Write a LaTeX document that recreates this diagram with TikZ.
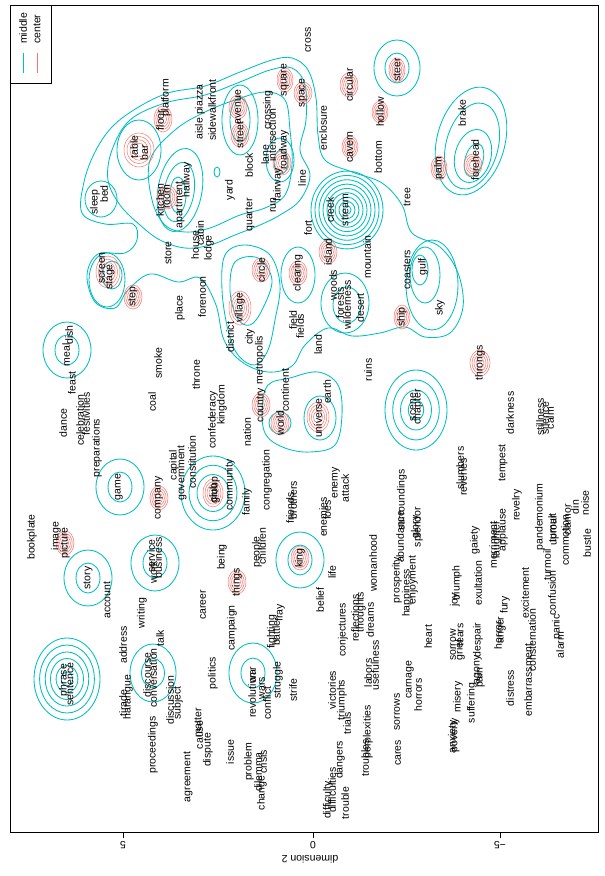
\documentclass[tikz,border=0pt]{standalone}
\usepackage{fontspec}
\setmainfont{Liberation Sans}
\definecolor{cyc}{RGB}{0,191,196}
\definecolor{rdc}{RGB}{248,118,109}
\begin{document}
\begin{tikzpicture}[x=1pt,y=-1pt,
  w/.style={font=\fontsize{10.5}{11}\selectfont, rotate=90, inner sep=0pt},
  cy/.style={draw=cyc, line width=0.85pt},
  rd/.style={draw=rdc, line width=0.5pt}]
\useasboundingbox (0,0) rectangle (605,876);
\fill[white] (0,0) rectangle (605,876);
% frame
\draw[line width=0.7pt] (10,5) rectangle (598,832);
\foreach \xx/\lab/\nm in {123/5/t1,313/0/t2,500/{−5}/t3}{
  \coordinate (\nm a) at (\xx,832); \coordinate (\nm b) at (\xx,838);
  \draw (\nm a) -- (\nm b);
  \node[font=\fontsize{10.5}{11}\selectfont, rotate=180] (\nm) at (\xx,845) {\lab};}
\node[font=\fontsize{10.5}{11}\selectfont, rotate=180] (ylab) at (310,859) {dimension 2};
% legend
\draw[line width=0.7pt] (10,5) rectangle (51,83);
\coordinate (l1a) at (23,53); \coordinate (l1b) at (23,73);
\coordinate (l2a) at (37,53); \coordinate (l2b) at (37,73);
\draw[cy, line width=1pt] (l1a) -- (l1b);
\draw[rd, line width=1pt] (l2a) -- (l2b);
\node[w, anchor=west] (legm) at (23,44) {middle};
\node[w, anchor=west] (legc) at (37,44) {center};

% ---------------- cyan contours ----------------
% big outer
\draw[cy] plot[smooth cycle, tension=0.6] coordinates {
 (82,213) (84,182) (95,152) (112,127) (137,108) (168,93) (205,86) (240,72) (272,60) (292,58)
 (308,70) (316,98) (318,135) (325,160) (352,172) (382,183) (402,205) (412,233) (440,247)
 (458,273) (463,307) (450,333) (425,337) (405,327) (380,333) (352,336) (328,328) (305,345)
 (292,366) (268,372) (242,362) (224,340) (216,305) (200,278) (178,282) (150,274) (128,290)
 (115,308) (95,302) (87,275) (98,254) (125,253) (137,240) (133,224) (105,224)};
% central masses
\draw[cy] plot[smooth cycle, tension=0.6] coordinates {
 (112,150) (130,120) (165,103) (205,95) (240,82) (270,70) (292,68) (305,85) (306,120) (300,150)
 (310,175) (300,200) (280,215) (260,225) (235,235) (210,245) (185,248) (160,240) (140,225) (120,205) (108,180)};
\draw[cy] plot[smooth cycle, tension=0.6] coordinates {
 (150,160) (175,130) (205,112) (235,100) (265,92) (285,100) (290,130) (292,165) (285,195)
 (265,208) (240,215) (210,228) (185,232) (165,225) (152,200)};
\draw[cy, rotate around={-10:(180,190)}] (180,190) ellipse [x radius=22, y radius=42];
\draw[cy, rotate around={-10:(179,192)}] (179,192) ellipse [x radius=15, y radius=30];
\draw[cy] (178,195) ellipse [x radius=8, y radius=18];
\draw[cy] (240,120) ellipse [x radius=18, y radius=35];
\draw[cy] (240,120) ellipse [x radius=10, y radius=22];
\draw[cy] (280,160) ellipse [x radius=14, y radius=22];
\draw[cy] (281,162) ellipse [x radius=7, y radius=12];
\draw[cy] (139,150) ellipse [x radius=22, y radius=30];
\draw[cy] (217,172) ellipse [x radius=3, y radius=5];
\foreach \r in {4,8,...,36} {\draw[cy] (347,210) ellipse [x radius=\r, y radius=\r*1.08];}
% sleep, screen
\draw[cy] (101,199) ellipse [x radius=16, y radius=18];
\draw[cy] (107,280) ellipse [x radius=18, y radius=27];
\draw[cy] (112,275) ellipse [x radius=10, y radius=14];
% village lobe
\draw[cy] plot[smooth cycle, tension=0.6] coordinates {
 (225,255) (245,245) (270,255) (280,285) (275,320) (268,350) (255,365) (238,355) (228,330) (222,290)};
\draw[cy] plot[smooth cycle, tension=0.6] coordinates {
 (235,262) (258,258) (272,280) (262,310) (250,325) (237,318) (230,290)};
\draw[cy] (298,275) ellipse [x radius=17, y radius=28];
% wilderness, sky
\draw[cy] (345,303) ellipse [x radius=24, y radius=30];
\draw[cy] (347,305) ellipse [x radius=14, y radius=18];
\draw[cy] (432,285) ellipse [x radius=26, y radius=45];
\draw[cy] (425,275) ellipse [x radius=15, y radius=28];
\draw[cy] (420,270) ellipse [x radius=8, y radius=15];
% steer
\draw[cy] (397,68) ellipse [x radius=23, y radius=28];
\draw[cy] (397,68) ellipse [x radius=12, y radius=15];
% brake/forehead
\draw[cy, rotate around={-15:(471,141)}] (471,141) ellipse [x radius=34, y radius=55];
\draw[cy, rotate around={-15:(472,146)}] (472,146) ellipse [x radius=26, y radius=44];
\draw[cy, rotate around={-15:(473,156)}] (473,156) ellipse [x radius=18, y radius=27];
\draw[cy, rotate around={-15:(474,160)}] (474,160) ellipse [x radius=9, y radius=17];
% world / universe
\draw[cy] plot[smooth cycle, tension=0.6] coordinates {
 (268,385) (290,378) (318,372) (338,385) (342,415) (335,445) (310,452) (285,448) (266,435) (262,410)};
\draw[cy] (280,423) ellipse [x radius=11, y radius=11];
\draw[cy] (320,418) ellipse [x radius=16, y radius=22];
% small groups
\foreach \cx/\cy in {67/350,120/487,88/578,155/563,300/560}{
  \draw[cy] (\cx,\cy) ellipse [x radius=24, y radius=28];
  \draw[cy] (\cx,\cy) ellipse [x radius=12, y radius=15];}
\foreach \r in {1,0.75,0.5}{\draw[cy] (213,493) ellipse [x radius=32*\r, y radius=37*\r];}
\foreach \r in {1,0.75,0.5,0.25}{\draw[cy] (416,410) ellipse [x radius=31*\r, y radius=40*\r];}
\foreach \r in {1,0.5}{\draw[cy] (253,673) ellipse [x radius=24*\r, y radius=30*\r];}
\foreach \r in {1,0.5}{\draw[cy] (153,673) ellipse [x radius=23*\r, y radius=29*\r];}
\foreach \r in {1,0.83,0.66,0.5,0.33,0.17}{\draw[cy] (67,679) ellipse [x radius=33*\r, y radius=41*\r];}

% ---------------- red contours ----------------
\foreach \cx/\cy/\rx/\ry in {139/150/15/17,163/119/9/13,167/197/10/12,238/107/9/12,240/135/9/12,
 282/163/9/12,285/80/8/12,303/93/9/11,349/85/9/12,380/112/8/11,350/147/8/11,397/70/8/12,
 439/168/8/12,473/165/9/11,108/272/12/16,133/297/9/12,261/270/9/12,298/273/9/12,328/252/9/12,
 240/308/11/17,261/405/9/12,280/423/9/12,318/417/11/15,402/317/8/12,480/363/10/13,65/543/9/12,
 159/498/9/12,213/493/10/14,237/582/9/12,300/558/9/12}{
  \foreach \s in {1,0.8,0.6,0.4}{\draw[rd] (\cx,\cy) ellipse [x radius=\rx*\s, y radius=\ry*\s];}}

% ---------------- words ----------------
\foreach \x/\y/\t [count=\i] in {
308/40/cross, 166/98/platform, 160/120/floor, 200/112/{aisle piazza}, 212/110/{sidewalkfront},
238/107/avenue, 240/135/street, 268/110/crossing, 272/135/intersection, 265/155/lane, 249/165/block,
284/150/roadway, 285/80/square, 303/93/space, 323/128/enclosure, 302/178/line, 278/185/fairway,
273/205/run, 230/190/yard, 250/215/quarter, 308/228/fort, 330/210/creek, 345/210/stream,
328/252/island, 349/85/circular, 380/112/hollow, 350/147/cavern, 378/157/bottom, 397/70/steer,
462/113/brake, 475/160/forehead, 439/168/palm, 407/197/tree, 95/202/sleep, 104/194/bed,
134/147/table, 144/153/bar, 187/180/hallway, 167/197/room, 160/200/kitchen, 180/205/apartment,
195/245/house, 200/233/cabin, 209/248/lodge, 168/253/store, 102/268/screen, 110/277/stage, 133/297/step,
180/308/place, 202/297/forenoon, 158/363/smoke, 152/402/coal, 196/375/throne,
69/335/dish, 66/355/meal, 72/383/feast, 63/423/dance, 80/420/celebration, 86/414/festivities, 97/448/preparations,
230/337/district, 250/337/city, 260/360/metropolis, 261/270/circle, 298/273/clearing, 240/308/village,
293/320/field, 300/326/fields, 318/345/land, 333/285/woods, 340/303/forests, 347/305/wilderness, 360/308/desert,
367/257/mountain, 368/370/ruins, 407/270/coasters, 423/267/gulf, 440/308/sky, 402/317/ship, 480/363/throngs,
261/405/country, 285/390/continent, 280/423/world, 318/418/universe, 327/392/earth,
222/405/kingdom, 213/420/confederacy, 247/432/nation,
510/413/darkness, 540/417/stillness, 545/418/silence, 550/418/calm, 413/407/scene, 418/407/chapter,
32/537/bookplate, 56/536/image, 65/543/picture, 88/578/story, 107/600/account, 119/487/game,
159/498/company, 174/465/capital, 182/473/government, 192/462/constitution,
151/556/service, 158/558/business, 153/572/work, 142/613/writing, 160/638/talk, 123/645/address, 203/605/career,
222/557/being, 237/582/things, 257/552/people, 262/546/children, 213/493/club, 216/490/group,
230/485/community, 247/502/family, 267/480/congregation, 290/508/friends, 293/500/brothers,
323/517/enemies, 327/510/foes, 336/483/enemy, 345/488/attack, 300/558/king, 332/572/life, 320/600/belief,
232/628/campaign, 272/632/fighting, 276/633/battle, 280/613/fray, 343/630/conjectures, 355/618/reflections,
361/612/thoughts, 370/620/dreams, 373/563/womanhood, 397/580/prosperity, 400/537/abundance, 402/500/surroundings,
418/527/splendor, 416/527/glory, 413/580/enjoyment, 407/593/happiness, 460/468/slumbers, 463/477/reveries,
503/463/tempest, 517/505/revelry, 475/540/gaiety, 493/545/merriment, 497/540/laughter, 503/530/applause,
540/517/pandemonium, 552/528/tumult, 555/530/uproar, 565/540/commotion, 567/520/clamor, 575/507/din,
585/503/noise, 587/543/bustle, 457/583/triumph, 455/600/joy, 478/583/exultation, 525/593/excitement,
547/565/turmoil, 552/593/confusion, 505/605/fury, 502/630/anger, 498/635/horror, 557/627/panic, 560/645/alarm,
532/640/consternation, 428/637/heart, 453/645/sorrow, 460/650/grief, 460/635/tears, 478/640/despair,
64/680/phrase, 70/684/sentence, 123/703/tirade, 128/697/harangue, 147/675/discourse, 153/678/conversation,
170/700/discussion, 178/703/subject, 153/745/proceedings, 198/723/matter, 200/735/cause, 188/777/agreement,
213/673/politics, 208/750/dispute, 230/752/issue, 253/675/war, 252/695/revolution, 262/688/wars,
267/703/conflict, 278/680/struggle, 293/690/strife, 249/762/problem, 258/772/dilemma, 263/762/crisis,
262/793/change, 332/690/victories, 342/700/triumphs, 347/723/trials, 328/800/difficulty, 332/790/difficulties,
340/760/dangers, 345/803/trouble, 368/732/perplexities, 365/758/troubles, 368/673/labors, 375/665/usefulness,
397/712/sorrows, 398/753/cares, 410/680/carnage, 418/695/horrors, 458/697/misery, 472/703/suffering,
455/735/poverty, 453/737/anxiety, 510/688/distress, 528/680/embarrassment, 480/678/pain, 478/670/agony}
 {\node[w] (n\i) at (\x,\y) {\t};}
\end{tikzpicture}
\end{document}
